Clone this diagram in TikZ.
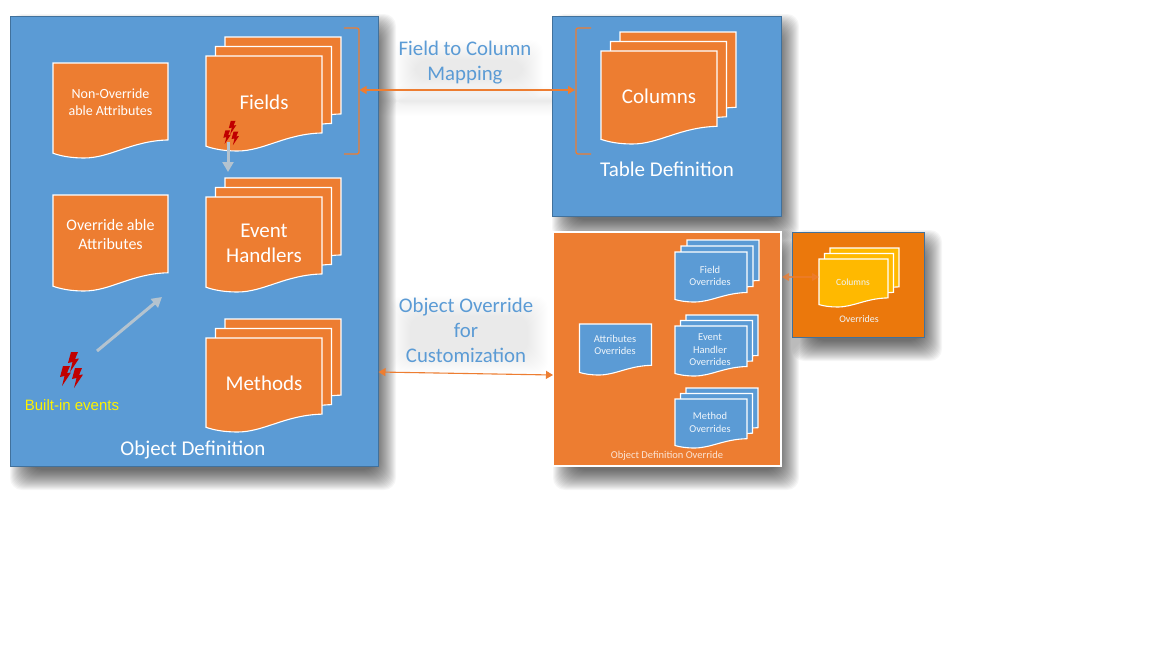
\documentclass[tikz,border=0pt]{standalone}
\usepackage{fontspec}
\setmainfont{Carlito}
\newfontfamily\arialfont{Liberation Sans}
\usetikzlibrary{positioning,arrows.meta}

\definecolor{panelblue}{HTML}{5B9BD5}
\definecolor{panelline}{HTML}{41719C}
\definecolor{sheetorange}{HTML}{ED7D31}
\definecolor{boxorange}{HTML}{EB780C}
\definecolor{sheetyellow}{HTML}{FFB900}
\definecolor{boltred}{HTML}{C00000}
\definecolor{flowgrey}{HTML}{B4C3CF}

\tikzset{
  panel/.style={draw=panelline, line width=0.8pt, fill=panelblue, minimum width=#1, inner sep=0pt, outer sep=0pt},
  sheet/.style={draw=white, line width=1.1pt, fill=sheetorange, line join=miter},
  bluesheet/.style={sheet, fill=panelblue},
  yellowsheet/.style={sheet, fill=sheetyellow},
  maplabel/.style={text=panelblue, font=\fontsize{20.8}{25}\selectfont, align=center},
  bigtext/.style={text=white, font=\fontsize{21}{25}\selectfont, align=center},
  midtext/.style={text=white, font=\fontsize{14}{17}\selectfont, align=center},
  smalltext/.style={text=white!90!panelblue, font=\fontsize{10.5}{12.6}\selectfont, align=center},
  maparrow/.style={sheetorange, line width=1.1pt, {Triangle[length=7pt,width=8pt]}-{Triangle[length=7pt,width=8pt]}},
  flowarrow/.style={flowgrey, line width=3pt, -{Triangle[length=10pt,width=11pt]}},
  brace/.style={sheetorange, line width=1.3pt, rounded corners=2pt},
}

% x, y, width, height, style
\newcommand{\docsheet}[5]{
  \draw[#5] (#1,#2) -- ({#1+#3},#2) -- ({#1+#3},{#2+0.81*#4})
    .. controls ({#1+0.68*#3},{#2+0.82*#4}) and ({#1+0.5*#3},{#2+#4}) .. ({#1+0.27*#3},{#2+#4})
    .. controls ({#1+0.16*#3},{#2+#4}) and ({#1+0.07*#3},{#2+0.98*#4}) .. (#1,{#2+0.95*#4}) -- cycle;
}
% x, y, width, height, step, style
\newcommand{\docstack}[6]{
  \docsheet{#1+2*#5}{#2-2*#5}{#3}{#4}{#6}
  \docsheet{#1+#5}{#2-#5}{#3}{#4}{#6}
  \docsheet{#1}{#2}{#3}{#4}{#6}
}
% x0, y0, x1, y1, strength
\newcommand{\softshadow}[5]{
  \foreach \g in {-4,-3,...,16}{
    \fill[black, opacity=#5, rounded corners=12pt] ({#1+16-\g},{#2+14-\g}) rectangle ({#3+2+\g},{#4+8+\g});
  }
}
% x, y, scale
\newcommand{\boltgroup}[3]{
  \begin{scope}[shift={(#1,#2)}, scale=#3]
    \foreach \bx/\by in {-4/-18, -12/-4, 0/-2}{
      \fill[boltred] (\bx+3,\by) -- (\bx+10,\by) -- (\bx+7,\by+7) -- (\bx+11,\by+6.5) -- (\bx+2,\by+20) -- (\bx+4.5,\by+10) -- (\bx,\by+11) -- cycle;
    }
  \end{scope}
}

\begin{document}
\begin{tikzpicture}[x=1pt, y=-1pt]
  \useasboundingbox (0,0) rectangle (1152,648);
  \fill[white] (0,0) rectangle (1152,648);

  % shadows
  \softshadow{10}{16}{378}{466}{0.035}
  \softshadow{552}{16}{781}{216}{0.035}
  \softshadow{553}{232}{781}{466}{0.035}
  \softshadow{792}{232}{924}{337}{0.035}
  \softshadow{395}{42}{525}{75}{0.003}
  \softshadow{390}{298}{530}{350}{0.003}
  \softshadow{375}{88}{560}{92}{0.005}

  % object definition
  \node[panel=368pt, minimum height=450pt] (objdef) at (194,241) {};
  \docsheet{53}{63}{115}{95}{sheet}
  \node[midtext] (nonover) at (110.5,102) {Non-Override\\able Attributes};
  \docsheet{53}{195}{115}{96}{sheet}
  \node[midtext, font=\fontsize{16}{19}\selectfont] (over) at (110.5,234.5) {Override able\\Attributes};
  \docstack{206}{56}{116}{95}{9.5}{sheet}
  \node[bigtext] (fields) at (264,102.5) {Fields};
  \docstack{206}{197}{116}{95}{9.5}{sheet}
  \node[bigtext] (handlers) at (264,243) {Event\\Handlers};
  \docstack{206}{338}{116}{94}{9.5}{sheet}
  \node[bigtext] (methods) at (264,383.5) {Methods};
  \node[bigtext] (objtitle) at (193,450.5) {Object Definition};
  \draw[brace] (344,28) -- (359,28) -- (359,154) -- (344,154);

  \boltgroup{231.5}{133}{0.68}
  \boltgroup{72}{370}{1}
  \node[text=yellow, font=\arialfont\fontsize{15}{18}\selectfont] (builtin) at (72,405) {Built-in events};

  \coordinate (boltfield) at (228,142);
  \coordinate (handlertop) at (228,172);
  \coordinate (boltbase) at (97,351);
  \coordinate (attrcorner) at (162,297);
  \draw[flowarrow] (boltfield) -- (handlertop);
  \draw[flowarrow] (boltbase) -- (attrcorner);

  % table definition
  \node[panel=229pt, minimum height=200pt] (tabledef) at (666.5,116) {};
  \docstack{601}{51}{116}{93}{9.5}{sheet}
  \node[bigtext] (columns) at (659,96) {Columns};
  \node[bigtext] (tabletitle) at (667,169.5) {Table Definition};
  \draw[brace] (591,28) -- (576,28) -- (576,154) -- (591,154);

  % override definition
  \node[panel=228pt, minimum height=234pt, draw=white, line width=1.5pt, fill=sheetorange] (ovrdef) at (667,349) {};
  \docsheet{579.5}{324}{72}{51}{bluesheet}
  \node[smalltext] (attrovr) at (615,345) {Attributes\\Overrides};
  \docstack{675}{252}{72}{50}{6}{bluesheet}
  \node[smalltext] (fieldovr) at (710,276) {Field\\Overrides};
  \docstack{675}{326}{72}{50}{5.5}{bluesheet}
  \node[smalltext] (eventovr) at (710,350) {Event\\Handler\\Overrides};
  \docstack{675}{399}{72}{49}{5.5}{bluesheet}
  \node[smalltext] (methodovr) at (710,422.5) {Method\\Overrides};
  \node[smalltext, text=white!80!sheetorange] (ovrtitle) at (667,456) {Object Definition Override};

  % overrides box
  \node[panel=132pt, minimum height=105pt, fill=boxorange] (ovrbox) at (858.5,285) {};
  \docstack{819}{259}{69}{48}{5.5}{yellowsheet}
  \node[smalltext, font=\fontsize{9.5}{12}\selectfont] (colovr) at (853,282) {Columns};
  \node[smalltext, font=\fontsize{10}{12}\selectfont] (ovrnote) at (859,319) {Overrides};

  % mappings
  \node[maplabel] (maptext) at (465,62.5) {Field to Column\\Mapping};
  \node[maplabel] (ovrtext) at (466,330.5) {Object Override\\for\\Customization};
  \coordinate (fieldbrace) at (359.5,90);
  \coordinate (columnbrace) at (575,90);
  \coordinate (objport) at (378.5,372);
  \coordinate (ovrport) at (553,375);
  \coordinate (ovrdefport) at (782,277);
  \coordinate (colport) at (819,277);
  \draw[maparrow] (fieldbrace) -- (columnbrace);
  \draw[maparrow] (objport) -- (ovrport);
  \draw[maparrow, opacity=0.7] (ovrdefport) -- (colport);
\end{tikzpicture}
\end{document}
